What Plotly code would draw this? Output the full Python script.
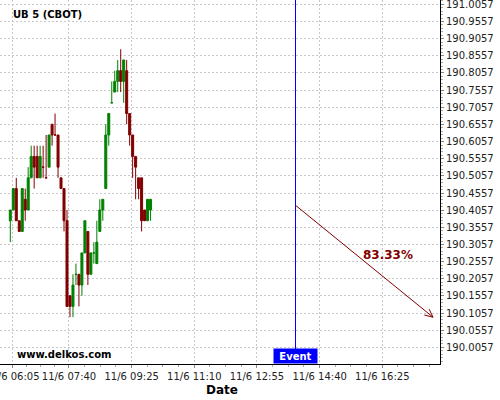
import math
import plotly.graph_objects as go

FONT = "DejaVu Sans"
TITLE = "UB 5 (CBOT)"
WATERMARK = "www.delkos.com"
EVENT_LABEL = "Event"
PCT_LABEL = "83.33%"

# 5-minute candles (prices)
opens = [190.375, 190.40625, 190.46875, 190.375, 190.34375, 190.4375, 190.40625, 190.5,
         190.5625, 190.5625, 190.5, 190.53125, 190.5, 190.53125, 190.65625, 190.625,
         190.625, 190.5, 190.46875, 190.375, 190.15625, 190.125, 190.21875, 190.21875,
         190.1875, 190.28125, 190.34375, 190.21875, 190.28125, 190.25, 190.34375, 190.40625,
         190.46875, 190.625, 190.71875, 190.75, 190.78125, 190.8125, 190.78125, 190.8125,
         190.6875, 190.625, 190.5625, 190.5, 190.5, 190.40625, 190.375, 190.40625]
highs = [190.40625, 190.46875, 190.5, 190.375, 190.46875, 190.46875, 190.53125, 190.59375,
         190.59375, 190.59375, 190.59375, 190.59375, 190.625, 190.625, 190.65625, 190.6875,
         190.625, 190.5, 190.46875, 190.40625, 190.15625, 190.21875, 190.25, 190.21875,
         190.28125, 190.375, 190.34375, 190.28125, 190.3125, 190.375, 190.4375, 190.4375,
         190.65625, 190.6875, 190.78125, 190.8125, 190.84375, 190.875, 190.84375, 190.84375,
         190.6875, 190.625, 190.5625, 190.5, 190.5, 190.40625, 190.4375, 190.4375]
lows = [190.3125, 190.40625, 190.375, 190.34375, 190.34375, 190.375, 190.40625, 190.5,
        190.46875, 190.5, 190.5, 190.5, 190.5, 190.53125, 190.59375, 190.625,
        190.5, 190.46875, 190.34375, 190.125, 190.09375, 190.09375, 190.1875, 190.125,
        190.15625, 190.28125, 190.1875, 190.21875, 190.25, 190.25, 190.34375, 190.375,
        190.46875, 190.59375, 190.71875, 190.75, 190.75, 190.75, 190.71875, 190.65625,
        190.59375, 190.5, 190.4375, 190.4375, 190.34375, 190.375, 190.375, 190.375]
closes = [190.40625, 190.46875, 190.375, 190.34375, 190.46875, 190.40625, 190.5, 190.5625,
          190.53125, 190.5, 190.5625, 190.53125, 190.5, 190.625, 190.625, 190.625,
          190.53125, 190.46875, 190.375, 190.125, 190.125, 190.1875, 190.21875, 190.1875,
          190.28125, 190.375, 190.21875, 190.28125, 190.28125, 190.3125, 190.40625, 190.4375,
          190.625, 190.6875, 190.71875, 190.78125, 190.8125, 190.78125, 190.84375, 190.6875,
          190.625, 190.5625, 190.53125, 190.46875, 190.375, 190.375, 190.4375, 190.4375]
# direction of candles whose open equals close
flat_up = [22, 28, 34]

# axis
x_tick_slots = [0, 19, 40, 61, 82, 103, 124]
x_tick_text = ["11/6 06:05", "11/6 07:40", "11/6 09:25", "11/6 11:10",
               "11/6 12:55", "11/6 14:40", "11/6 16:25"]
y_ticks = [190.0057 + 0.05 * k for k in range(21)]
y_range = [189.9573, 191.0185]

# event / projection
event_slot = 95
arrow_end_slot = 141
arrow_start_price = 190.42
arrow_end_price = 190.0937

SLOT_OFF = 2 / 3
X_RANGE = [-3.452, 144.0]
PLOT_W, PLOT_H = 440, 364
GREEN = "#008000"
RED = "#800000"

n = len(opens)
xs = list(range(n))
up = [(c > o) or (c == o and i in flat_up) for i, (o, c) in enumerate(zip(opens, closes))]


def sub(mask):
    idx = [i for i in range(n) if mask[i]]
    return ([xs[i] for i in idx], [opens[i] for i in idx], [highs[i] for i in idx],
            [lows[i] for i in idx], [closes[i] for i in idx])


fig = go.Figure()
for mask, col in ((up, GREEN), ([not u for u in up], RED)):
    x, o, h, l, c = sub(mask)
    fig.add_trace(go.Candlestick(
        x=x, open=o, high=h, low=l, close=c,
        increasing=dict(line=dict(color=col, width=1), fillcolor=col),
        decreasing=dict(line=dict(color=col, width=1), fillcolor=col),
        whiskerwidth=0, showlegend=False, hoverinfo="skip"))

sx = PLOT_W / (X_RANGE[1] - X_RANGE[0])
sy = PLOT_H / (y_range[1] - y_range[0])


def crisp(xv):
    # snap a data x to the centre of a screen pixel so 1px lines stay sharp
    px = (xv - X_RANGE[0]) * sx
    return X_RANGE[0] + (math.floor(px) + 0.5) / sx


ev_x = event_slot + SLOT_OFF
ev_line_x = crisp(ev_x)
ar_x = arrow_end_slot + SLOT_OFF

shapes = [
    dict(type="line", xref="x", yref="paper", x0=ev_line_x, x1=ev_line_x, y0=14 / PLOT_H,
         y1=1, line=dict(color="#0000ff", width=1)),
    dict(type="line", xref="x", yref="y", x0=ev_line_x, x1=ar_x, y0=arrow_start_price,
         y1=arrow_end_price, line=dict(color=RED, width=1)),
]
dxp = (ar_x - ev_x) * sx
dyp = (arrow_end_price - arrow_start_price) * sy
ang = math.atan2(dyp, dxp)
for d in (math.radians(25), -math.radians(25)):
    a = ang + math.pi + d
    hx = ar_x + 9 * math.cos(a) / sx
    hy = arrow_end_price + 9 * math.sin(a) / sy
    shapes.append(dict(type="line", xref="x", yref="y", x0=ar_x, x1=hx,
                       y0=arrow_end_price, y1=hy, line=dict(color=RED, width=1)))

annotations = [
    dict(text="<b>" + TITLE + "</b>", xref="paper", yref="paper", x=11 / PLOT_W,
         y=(PLOT_H - 15) / PLOT_H, xanchor="left", yanchor="middle", showarrow=False,
         font=dict(family=FONT, size=10, color="#000")),
    dict(text="<b>" + WATERMARK + "</b>", xref="paper", yref="paper", x=15 / PLOT_W,
         y=(PLOT_H - 354) / PLOT_H, xanchor="left", yanchor="middle", showarrow=False,
         font=dict(family=FONT, size=10, color="#000")),
    dict(text="<b>Date</b>", xref="paper", yref="paper", x=222 / PLOT_W,
         y=(PLOT_H - 390) / PLOT_H, xanchor="center", yanchor="middle", showarrow=False,
         font=dict(family=FONT, size=12, color="#000")),
    dict(text="<b>" + EVENT_LABEL + "</b>", xref="x", yref="paper", x=ev_x, y=0,
         xanchor="center", yanchor="bottom", showarrow=False, bgcolor="#0000ff",
         width=43, height=14, borderpad=0,
         font=dict(family=FONT, size=10, color="#fff")),
    dict(text="<b>" + PCT_LABEL + "</b>", xref="x", yref="y",
         x=(ev_x + ar_x) / 2, y=(arrow_start_price + arrow_end_price) / 2,
         xshift=24, yshift=6, showarrow=False,
         font=dict(family=FONT, size=12, color=RED)),
]

x_tickvals = [s + SLOT_OFF for s in x_tick_slots]
x_minor = [x_tickvals[0] - 19 / 4]
for a, b in zip(x_tickvals[:-1], x_tickvals[1:]):
    x_minor += [a + (b - a) * k / 4 for k in range(1, 4)]
x_minor += [x_tickvals[-1] + 21 * k / 4 for k in range(1, 4)]

fig.update_layout(
    template="none",
    width=500, height=400,
    margin=dict(l=0, r=60, t=0, b=36),
    paper_bgcolor="#fff", plot_bgcolor="#fff",
    boxgap=0.33, boxgroupgap=0,
    showlegend=False,
    font=dict(family=FONT, size=10, color="#222"),
    shapes=shapes, annotations=annotations,
    xaxis=dict(range=X_RANGE, tickmode="array", tickvals=x_tickvals, ticktext=x_tick_text,
               showgrid=True, gridcolor="#c8c8c8", griddash="2px,2px", gridwidth=1,
               zeroline=False, showline=True, linecolor="#000", linewidth=1,
               ticks="outside", ticklen=3, tickcolor="#888", automargin=False,
               ticklabeloverflow="allow",
               rangeslider=dict(visible=False), tickfont=dict(size=10, color="#222"),
               minor=dict(tickmode="array", tickvals=x_minor, ticks="outside",
                          ticklen=2, tickcolor="#aaa", showgrid=False)),
    yaxis=dict(range=y_range, side="right", tickmode="array", tickvals=y_ticks,
               ticktext=["%.4f" % v for v in y_ticks],
               showgrid=True, gridcolor="#c8c8c8", griddash="2px,2px", gridwidth=1,
               zeroline=False, showline=True, linecolor="#000", linewidth=1,
               ticks="outside", ticklen=3, tickcolor="#888", automargin=False,
               ticklabeloverflow="allow",
               tickfont=dict(size=10, color="#222"),
               minor=dict(dtick=0.01, tick0=190.0057, ticks="outside", ticklen=2,
                          tickcolor="#aaa", showgrid=False)),
)

fig.write_html("out.html", config={"displayModeBar": False},
               post_script="document.body.style.margin='0';")
